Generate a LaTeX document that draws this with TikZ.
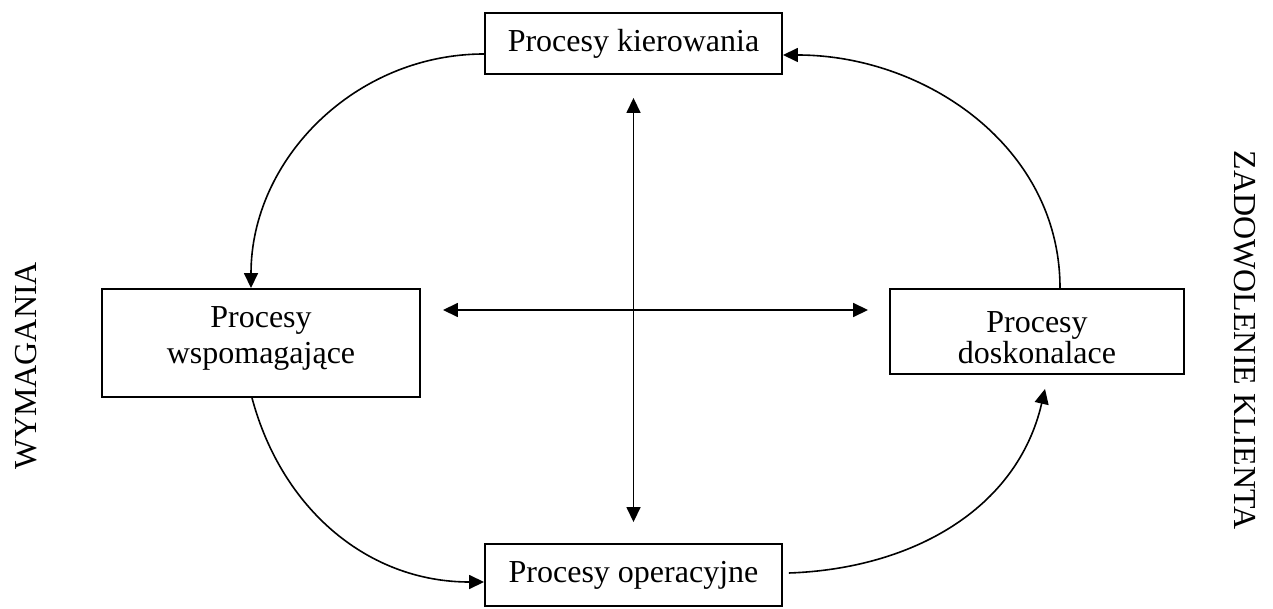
\documentclass[tikz,border=0pt]{standalone}
\usepackage{fontspec}
\setmainfont{Liberation Serif}
\usetikzlibrary{arrows.meta,calc}
\begin{document}
\begin{tikzpicture}[x=1pt,y=1pt,
  box/.style={draw,line width=1.9pt,inner sep=0pt,align=center,font=\fontsize{32}{36}\selectfont},
  conn/.style={line width=1.6pt,-{Triangle[length=15pt,width=14pt]}},
  dconn/.style={line width=1.6pt,{Triangle[length=15pt,width=14pt]}-{Triangle[length=15pt,width=14pt]}},
  side/.style={font=\fontsize{32}{36}\selectfont,inner sep=0pt}]
\useasboundingbox (0,0) rectangle (1273,608);
\node[box,minimum width=297pt,minimum height=61pt] (kier) at (633.5,564.5) {Procesy kierowania};
\node[box,minimum width=318pt,minimum height=108pt,text height=57pt,text depth=15pt] (wsp) at (261,265) {Procesy\\wspomagające};
\node[box,minimum width=294pt,minimum height=85pt,font=\fontsize{32}{31}\selectfont,text height=65pt,text depth=0pt] (dosk) at (1037,276.5) {Procesy\\doskonalace};
\node[box,minimum width=297pt,minimum height=62pt] (oper) at (633.5,33) {Procesy operacyjne};
\node[side,rotate=90] (wym) at (26,242) {WYMAGANIA};
\node[side,rotate=-90] (zad) at (1245,268) {ZADOWOLENIE KLIENTA};
\draw[conn] ($(kier.west)+(0,-10.5)$) to[out=180,in=90] ($(wsp.north)+(-10,0)$);
\draw[conn] ($(wsp.south)+(-9,0)$) to[out=-75,in=180] ($(oper.west)+(0,-7)$);
\draw[conn] ($(oper.east)+(6,2)$) to[out=2,in=-103] ($(dosk.south)+(8,-14)$);
\draw[conn] ($(dosk.north)+(23,0)$) to[out=90,in=0] ($(kier.east)+(0,-11.5)$);
\draw[dconn] ($(kier.south)+(0,-23)$) -- ($(oper.north)+(0,21)$);
\draw[dconn] ($(wsp.east)+(22,33)$) -- ($(dosk.west)+(-21,21.5)$);
\end{tikzpicture}
\end{document}
